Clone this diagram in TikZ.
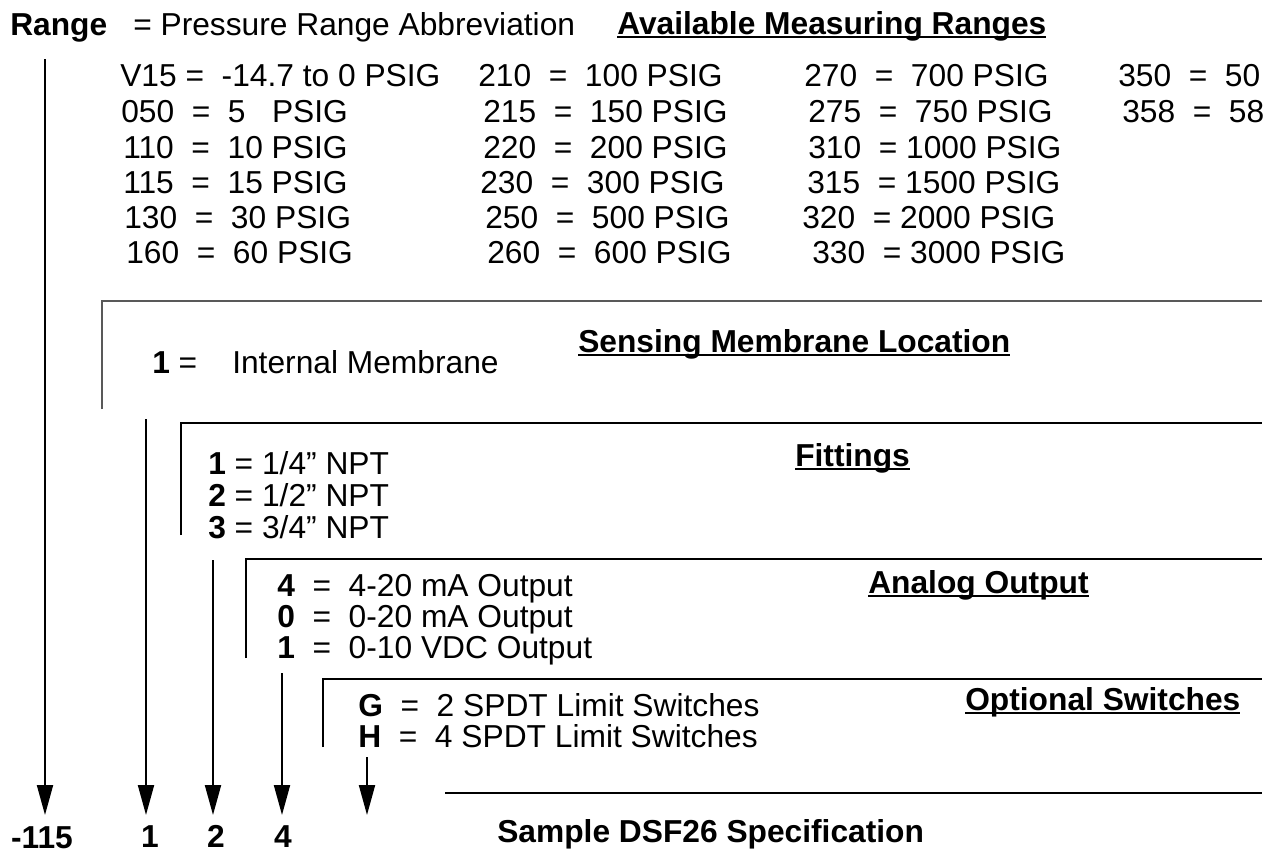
\documentclass[tikz,border=0pt]{standalone}
\usepackage{fontspec}
\setmainfont{Liberation Sans}
\usetikzlibrary{arrows.meta}
\newcommand{\diafont}{\fontsize{23.8pt}{28pt}\selectfont}
\newcommand{\ulhead}[1]{\setbox0\hbox{#1}\rlap{\rule[-3.2pt]{\wd0}{1.9pt}}\box0}

\begin{document}
\begin{tikzpicture}[x=0.75pt,y=-0.75pt,
        font=\diafont,
        txt/.style={anchor=base west, inner sep=0pt},
        head/.style={txt, font=\diafont\bfseries},
        boxline/.style={line width=1.5pt},
        arr/.style={line width=1.5pt, -{Triangle[width=12pt,length=22.5pt]}}]
    \useasboundingbox (0,0) rectangle (1275,854);

    \node[head] (range) at (10,35) {Range};
    \node[txt] (rangedef) at (133,35) {= Pressure Range Abbreviation};
    \node[head] (hranges) at (617,34) {\ulhead{Available Measuring Ranges}};

    \foreach \x/\y/\t [count=\i] in {120/86/{V15 =~~-14.7 to 0 PSIG}, 121/122/{050~~=~~5~~~PSIG},
            123/158/{110~~=~~10 PSIG}, 123/193/{115~~=~~15 PSIG},
            124/228/{130~~=~~30 PSIG}, 126/263/{160~~=~~60 PSIG}}
        \node[txt] (ca-\i) at (\x,\y) {\t};
    \foreach \x/\y/\t [count=\i] in {478/86/{210~~=~~100 PSIG}, 483/122/{215~~=~~150 PSIG},
            483/158/{220~~=~~200 PSIG}, 480/193/{230~~=~~300 PSIG},
            485/228/{250~~=~~500 PSIG}, 487/263/{260~~=~~600 PSIG}}
        \node[txt] (cb-\i) at (\x,\y) {\t};
    \foreach \x/\y/\t [count=\i] in {804/86/{270~~=~~700 PSIG}, 808/122/{275~~=~~750 PSIG},
            808/158/{310~~=~1000 PSIG}, 807/193/{315~~=~1500 PSIG},
            802/228/{320~~=~2000 PSIG}, 812/263/{330~~=~3000 PSIG}}
        \node[txt] (cc-\i) at (\x,\y) {\t};
    \node[txt] (cd-1) at (1118,86) {350~~=~~50};
    \node[txt] (cd-2) at (1122,122) {358~~=~~58};

    \draw[boxline, black!65] (102,409) -- (102,301) -- (1262,301);
    \node[txt] (m1) at (152,373) {\textbf{1} =};
    \node[txt] (m1t) at (232,373) {Internal Membrane};
    \node[head] (hsense) at (578,352) {\ulhead{Sensing Membrane Location}};

    \draw[boxline] (181,535) -- (181,423) -- (1262,423);
    \node[txt] (f1) at (208,474) {\textbf{1} = 1/4” NPT};
    \node[txt] (f2) at (208,506) {\textbf{2} = 1/2” NPT};
    \node[txt] (f3) at (208,538) {\textbf{3} = 3/4” NPT};
    \node[head] (hfit) at (795,466) {\ulhead{Fittings}};

    \draw[boxline] (246,658) -- (246,559) -- (1262,559);
    \node[txt] (o1) at (277,596) {\textbf{4}~~=~~4-20 mA Output};
    \node[txt] (o2) at (277,627) {\textbf{0}~~=~~0-20 mA Output};
    \node[txt] (o3) at (277,658) {\textbf{1}~~=~~0-10 VDC Output};
    \node[head] (hana) at (868,593) {\ulhead{Analog Output}};

    \draw[boxline] (323,747) -- (323,679) -- (1262,679);
    \node[txt] (s1) at (358,716) {\textbf{G}~~=~~2 SPDT Limit Switches};
    \node[txt] (s2) at (358,747) {\textbf{H}~~=~~4 SPDT Limit Switches};
    \node[head] (hsw) at (965,710) {\ulhead{Optional Switches}};

    \draw[boxline] (445,793) -- (1262,793);
    \node[head] (sample) at (497,842) {Sample DSF26 Specification};

    \coordinate (tips) at (0,815);
    \coordinate (a1) at (45,59);
    \coordinate (a2) at (146,419);
    \coordinate (a3) at (213,560);
    \coordinate (a4) at (282,673);
    \coordinate (a5) at (367,757);
    \foreach \a in {a1,a2,a3,a4,a5}
        \draw[arr] (\a) -- (\a |- tips);

    \node[head, anchor=base] (l1) at (42,848) {-115};
    \node[head, anchor=base] (l2) at (150,847) {1};
    \node[head, anchor=base] (l3) at (216,847) {2};
    \node[head, anchor=base] (l4) at (283,847) {4};
\end{tikzpicture}
\end{document}
